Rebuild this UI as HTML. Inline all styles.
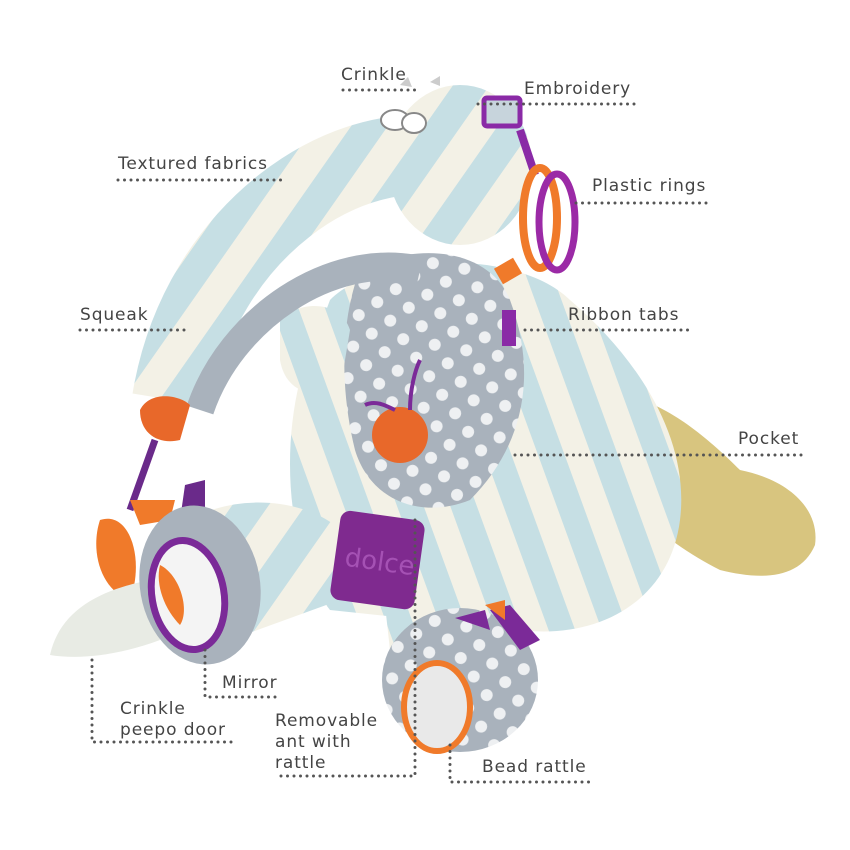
<!DOCTYPE html>
<html><head><meta charset="utf-8"><style>
html,body{margin:0;padding:0;background:#fff}
#w{position:relative;width:850px;height:850px;overflow:hidden;background:#fff}
svg{position:absolute;left:0;top:0}
.t{position:absolute;font-family:"DejaVu Sans","Liberation Sans",sans-serif;font-size:17px;color:#444;letter-spacing:0.9px;line-height:21px;white-space:nowrap}
</style></head><body><div id="w">
<svg width="850" height="850" viewBox="0 0 850 850">
<defs>
<pattern id="st" width="60" height="60" patternUnits="userSpaceOnUse" patternTransform="rotate(35)">
<rect width="60" height="60" fill="#f3f1e6"/><rect width="30" height="60" fill="#c6dfe4"/></pattern>
<pattern id="st2" width="50" height="50" patternUnits="userSpaceOnUse" patternTransform="rotate(-20)">
<rect width="50" height="50" fill="#f3f1e6"/><rect width="25" height="50" fill="#c6dfe4"/></pattern>
<pattern id="dot" width="32" height="32" patternUnits="userSpaceOnUse" patternTransform="rotate(10)">
<rect width="32" height="32" fill="#a9b2bc"/><circle cx="8" cy="8" r="6" fill="#eef0f2"/><circle cx="24" cy="24" r="6" fill="#eef0f2"/></pattern>
</defs>
<path d="M590 400 C640 380 700 430 740 470 C790 480 820 510 815 545 C800 580 760 580 720 570 C680 550 640 520 610 480 Z" fill="#d8c57f"/>
<path d="M330 300 C380 250 520 250 570 300 C640 360 690 440 680 520 C670 600 600 640 520 630 L330 610 C290 560 280 460 300 380 Z" fill="url(#st2)"/>
<path d="M380 560 C430 540 520 580 520 640 L470 680 L390 650 Z" fill="url(#st2)"/>
<path d="M190 520 C240 490 320 500 350 540 L340 600 L230 640 Z" fill="url(#st)"/>
<path d="M360 270 C420 240 490 250 510 300 C540 380 520 450 470 500 C420 520 370 500 355 450 C340 390 340 320 360 270 Z" fill="url(#dot)"/>
<path d="M530 340 C580 340 640 380 655 430 C660 460 630 470 600 460 C560 440 530 400 530 340 Z" fill="url(#st2)"/>
<path d="M280 320 C300 300 340 300 350 330 L340 390 C310 400 285 390 280 360 Z" fill="url(#st2)"/>
<path d="M460 160 C350 130 200 230 172 400" fill="none" stroke="url(#st)" stroke-width="80"/>
<path d="M420 270 C330 250 230 320 200 410" fill="none" stroke="#a9b2bc" stroke-width="28"/>
<ellipse cx="460" cy="165" rx="72" ry="80" fill="url(#st)"/>
<path d="M400 85 l8 -8 l4 10 z M430 82 l10 -6 l0 10z" fill="#ccc"/>
<ellipse cx="395" cy="120" rx="14" ry="10" fill="#fff" stroke="#888" stroke-width="2"/>
<ellipse cx="414" cy="123" rx="12" ry="10" fill="#fff" stroke="#888" stroke-width="2"/>
<rect x="484" y="98" width="36" height="28" fill="#c7d4dc" stroke="#8a2aa6" stroke-width="5" rx="3"/>
<path d="M520 130 L535 175" stroke="#8a2aa6" stroke-width="8"/>
<ellipse cx="540" cy="218" rx="17" ry="50" fill="none" stroke="#f07a2a" stroke-width="8"/>
<ellipse cx="557" cy="222" rx="18" ry="48" fill="none" stroke="#9b2aa6" stroke-width="7"/>
<rect x="497" y="262" width="22" height="18" fill="#f07a2a" transform="rotate(-30 508 271)"/>
<rect x="502" y="310" width="14" height="36" fill="#8a2aa6"/>
<path d="M140 410 C150 390 180 395 190 405 L180 440 C160 445 140 435 140 410 Z" fill="#e8682a"/>
<path d="M155 440 L130 510" stroke="#6a2a8a" stroke-width="7"/>
<path d="M100 520 C130 510 145 560 130 600 C100 590 90 550 100 520 Z" fill="#f07a2a"/>
<path d="M130 500 L175 500 L170 520 L140 525Z" fill="#f07a2a"/>
<path d="M185 485 L205 480 L205 520 L180 520Z" fill="#6a2a8a"/>
<path d="M50 655 C60 610 100 590 150 580 L160 640 C120 655 80 660 50 655 Z" fill="#e8ebe4"/>
<ellipse cx="200" cy="585" rx="60" ry="80" fill="#a9b2bc" transform="rotate(-10 200 585)"/>
<ellipse cx="188" cy="595" rx="36" ry="55" fill="#f4f4f4" stroke="#7b2a98" stroke-width="7" transform="rotate(-10 188 595)"/>
<path d="M160 565 C180 575 190 610 180 625 C165 610 155 585 160 565Z" fill="#f07a2a"/>
<rect x="335" y="515" width="85" height="90" rx="10" fill="#7f2a8f" transform="rotate(8 377 560)"/>
<text x="345" y="570" font-family="DejaVu Sans,sans-serif" font-size="26" fill="#a551b4" transform="rotate(8 377 560)">dolce</text>
<circle cx="400" cy="435" r="28" fill="#e8682a"/>
<path d="M410 410 C410 390 415 370 420 360 M395 410 C385 405 375 400 365 405" stroke="#7b2a98" stroke-width="4" fill="none"/>
<ellipse cx="460" cy="680" rx="78" ry="72" fill="url(#dot)"/>
<ellipse cx="437" cy="707" rx="33" ry="44" fill="#e9e9e9" stroke="#f07a2a" stroke-width="6"/>
<path d="M455 618 L485 610 L490 630Z M490 610 L510 605 L540 640 L520 650Z" fill="#7b2a98"/>
<path d="M485 605 L505 600 L505 620Z" fill="#f07a2a"/>
<g stroke="#555" stroke-width="3" stroke-linecap="round" stroke-dasharray="0 6.5" fill="none">
<path d="M343 90 H420"/>
<path d="M478 104 H640"/>
<path d="M118 180 H282"/>
<path d="M576 203 H710"/>
<path d="M80 330 H186"/>
<path d="M525 330 H688"/>
<path d="M515 455 H805"/>
<path d="M205 650 V697 H278"/>
<path d="M92 660 V742 H235"/>
<path d="M415 520 V776 H275"/>
<path d="M450 745 V782 H592"/>
</g>
</svg>
<div class="t" style="left:341px;top:65px">Crinkle</div>
<div class="t" style="left:524px;top:79px">Embroidery</div>
<div class="t" style="left:118px;top:154px">Textured fabrics</div>
<div class="t" style="left:592px;top:176px">Plastic rings</div>
<div class="t" style="left:80px;top:305px">Squeak</div>
<div class="t" style="left:568px;top:305px">Ribbon tabs</div>
<div class="t" style="left:738px;top:429px">Pocket</div>
<div class="t" style="left:222px;top:673px">Mirror</div>
<div class="t" style="left:120px;top:699px">Crinkle<br>peepo door</div>
<div class="t" style="left:275px;top:711px">Removable<br>ant with<br>rattle</div>
<div class="t" style="left:482px;top:757px">Bead rattle</div>
</div></body></html>
